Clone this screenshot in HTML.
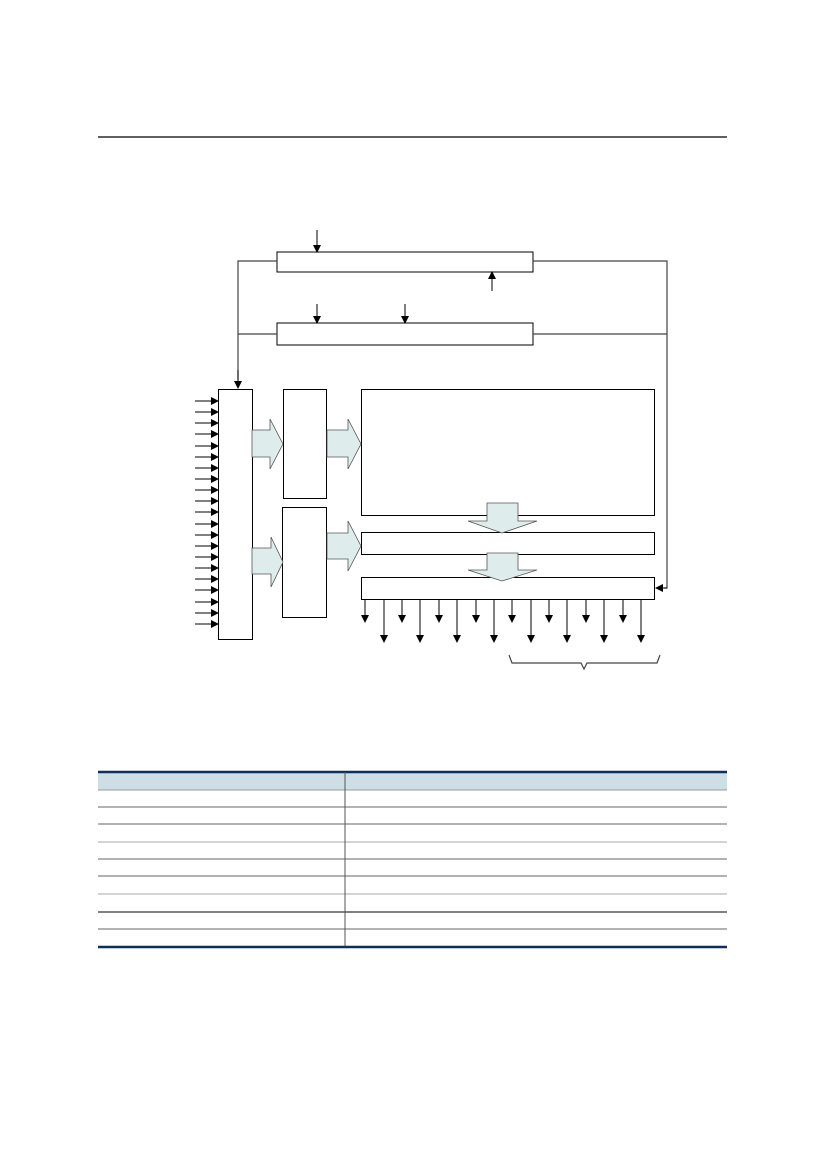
<!DOCTYPE html>
<html><head><meta charset="utf-8"><style>html,body{margin:0;padding:0;background:#fff}svg{display:block}</style></head>
<body>
<svg width="826" height="1169" viewBox="0 0 826 1169" xmlns="http://www.w3.org/2000/svg">
<defs>
<marker id="ah" markerWidth="8" markerHeight="8" refX="7" refY="4" orient="auto" markerUnits="userSpaceOnUse">
<path d="M0,0 L8,4 L0,8 z" fill="#000"/></marker>
</defs>
<line x1="98" y1="137" x2="727" y2="137" stroke="#000" stroke-width="1.2"/>
<g fill="none" stroke="#000" stroke-width="1">
<rect x="277" y="252" width="256" height="20"/>
<rect x="277" y="323" width="256" height="22"/>
<rect x="218.5" y="389.5" width="34" height="250"/>
<rect x="283.5" y="389.5" width="43" height="109"/>
<rect x="282.5" y="507.5" width="44" height="110"/>
<rect x="361.5" y="389.5" width="293" height="126"/>
<rect x="361.5" y="532.5" width="293" height="22"/>
<rect x="361.5" y="577.5" width="293" height="22"/>
</g>
<g fill="none" stroke="#444" stroke-width="1.2">
<polyline points="277,261 238,261 238,380"/>
<line x1="238" y1="334" x2="277" y2="334"/>
<polyline points="533,261 667,261 667,588 664,588"/>
<line x1="533" y1="334" x2="667" y2="334"/>
<path d="M509,655 L512,663 L581,663 L584,669 L587,663 L657,663 L660,655"/>
</g>
<g stroke="#000" stroke-width="1" marker-end="url(#ah)">
<line x1="238" y1="370" x2="238" y2="388"/>
<line x1="667" y1="588" x2="656" y2="588"/>
<line x1="317" y1="230" x2="317" y2="252"/>
<line x1="492" y1="291" x2="492" y2="272"/>
<line x1="317" y1="304" x2="317" y2="323"/>
<line x1="405" y1="304" x2="405" y2="323"/>
<line x1="195" y1="401" x2="218" y2="401"/><line x1="195" y1="412" x2="218" y2="412"/><line x1="195" y1="423" x2="218" y2="423"/><line x1="195" y1="434" x2="218" y2="434"/><line x1="195" y1="446" x2="218" y2="446"/><line x1="195" y1="457" x2="218" y2="457"/><line x1="195" y1="468" x2="218" y2="468"/><line x1="195" y1="479" x2="218" y2="479"/><line x1="195" y1="490" x2="218" y2="490"/><line x1="195" y1="501" x2="218" y2="501"/><line x1="195" y1="512" x2="218" y2="512"/><line x1="195" y1="524" x2="218" y2="524"/><line x1="195" y1="535" x2="218" y2="535"/><line x1="195" y1="546" x2="218" y2="546"/><line x1="195" y1="557" x2="218" y2="557"/><line x1="195" y1="568" x2="218" y2="568"/><line x1="195" y1="579" x2="218" y2="579"/><line x1="195" y1="590" x2="218" y2="590"/><line x1="195" y1="602" x2="218" y2="602"/><line x1="195" y1="613" x2="218" y2="613"/><line x1="195" y1="624" x2="218" y2="624"/>
<line x1="365" y1="599" x2="365" y2="622"/><line x1="402" y1="599" x2="402" y2="622"/><line x1="439" y1="599" x2="439" y2="622"/><line x1="476" y1="599" x2="476" y2="622"/><line x1="512" y1="599" x2="512" y2="622"/><line x1="549" y1="599" x2="549" y2="622"/><line x1="586" y1="599" x2="586" y2="622"/><line x1="623" y1="599" x2="623" y2="622"/>
<line x1="384" y1="599" x2="384" y2="642"/><line x1="420" y1="599" x2="420" y2="642"/><line x1="457" y1="599" x2="457" y2="642"/><line x1="494" y1="599" x2="494" y2="642"/><line x1="531" y1="599" x2="531" y2="642"/><line x1="567" y1="599" x2="567" y2="642"/><line x1="604" y1="599" x2="604" y2="642"/><line x1="641" y1="599" x2="641" y2="642"/>
</g>
<g fill="#deecec" stroke="#555" stroke-width="0.8">
<path d="M252,430 L270,430 L270,419 L283,444 L270,469 L270,457 L252,457 z"/>
<path d="M252,548 L271,548 L271,537 L283,562 L271,587 L271,574 L252,574 z"/>
<path d="M327,430 L348,430 L348,419 L361,444 L348,469 L348,457 L327,457 z"/>
<path d="M327,533 L348,533 L348,521 L361,546 L348,571 L348,559 L327,559 z"/>
<path d="M487,503 L518,503 L518,521 L537,521 L502,533 L468,521 L487,521 z"/>
<path d="M487,553 L518,553 L518,570 L537,570 L502,581 L468,570 L487,570 z"/>
</g>
<rect x="98" y="771" width="629" height="19" fill="#cddfe4"/>
<line x1="98" y1="772" x2="727" y2="772" stroke="#0d2f5e" stroke-width="2.5"/>
<g stroke="#666" stroke-width="1">
<line x1="98" y1="790" x2="727" y2="790" stroke="#999"/>
<line x1="98" y1="807" x2="727" y2="807"/>
<line x1="98" y1="824" x2="727" y2="824"/>
<line x1="98" y1="842" x2="727" y2="842" stroke="#aaa"/>
<line x1="98" y1="859" x2="727" y2="859"/>
<line x1="98" y1="876" x2="727" y2="876"/>
<line x1="98" y1="894" x2="727" y2="894" stroke="#aaa"/>
<line x1="98" y1="912" x2="727" y2="912" stroke="#000"/>
<line x1="98" y1="929" x2="727" y2="929"/>
<line x1="345" y1="772" x2="345" y2="947" stroke="#555"/>
</g>
<line x1="98" y1="947" x2="727" y2="947" stroke="#0d2f5e" stroke-width="2.5"/>
</svg>
</body></html>
